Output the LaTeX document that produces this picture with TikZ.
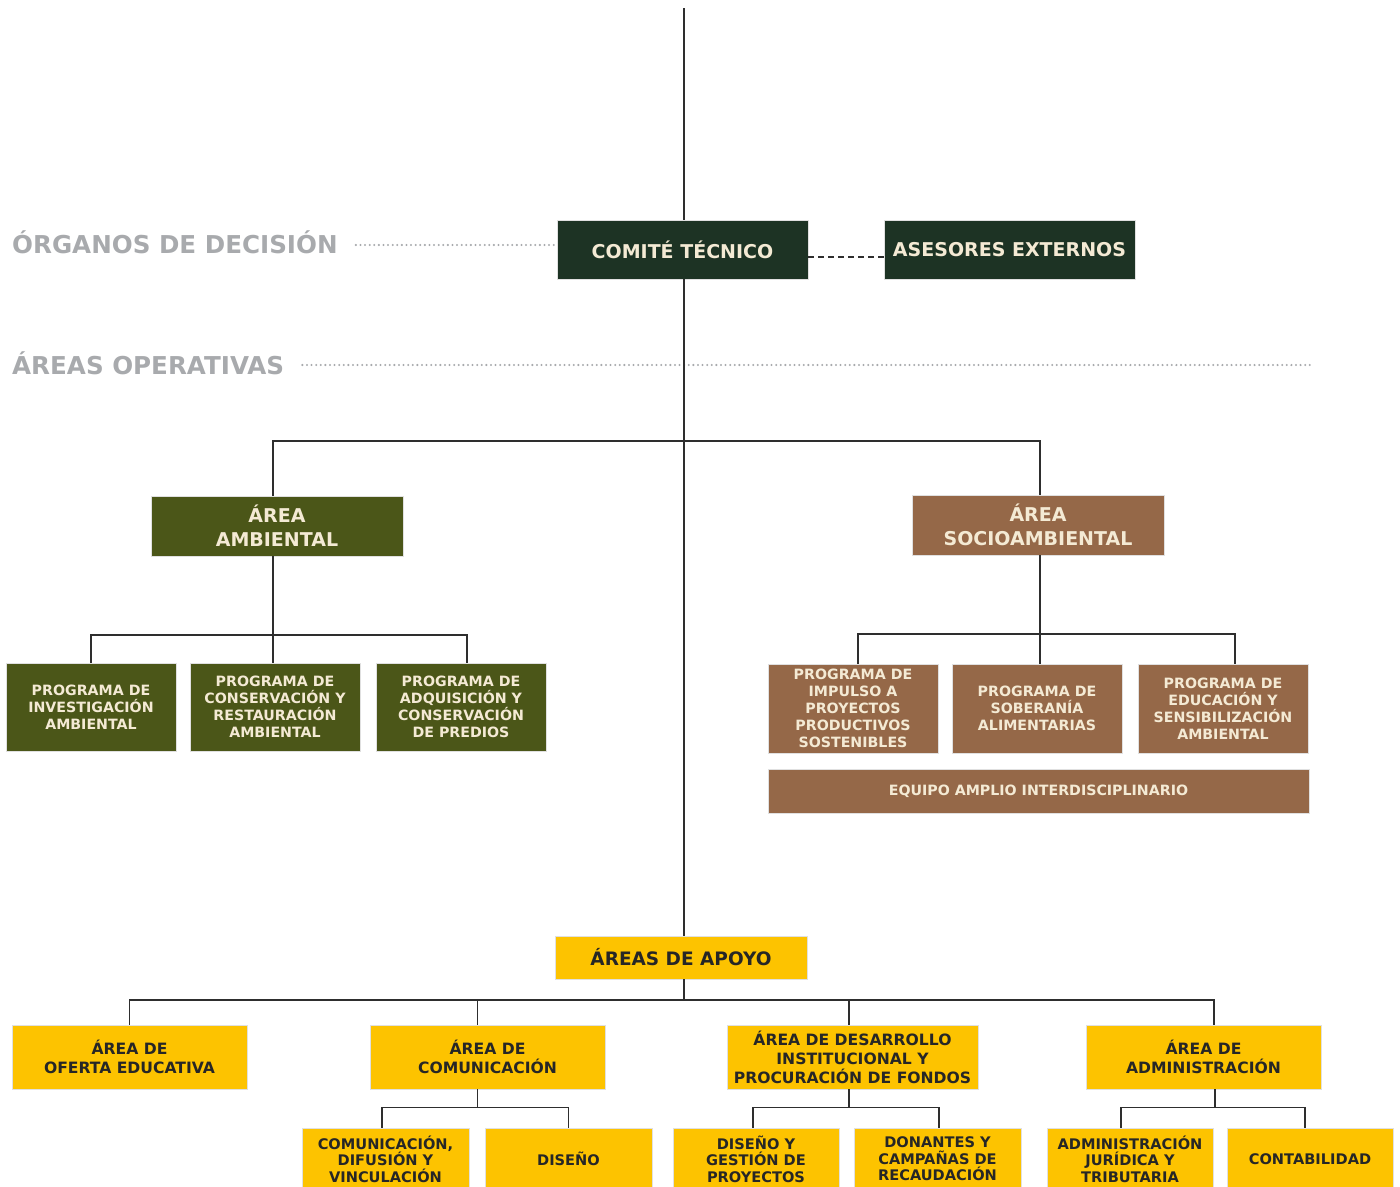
\documentclass[tikz,border=0pt]{standalone}
\usepackage{fontspec}
\setmainfont{DejaVu Sans}
\usetikzlibrary{calc}
\definecolor{dgreen}{HTML}{1D3324}
\definecolor{olive}{HTML}{4B5618}
\definecolor{brownc}{HTML}{956848}
\definecolor{yel}{HTML}{FDC300}
\definecolor{cream}{HTML}{F4EAD4}
\definecolor{greyt}{HTML}{A8AAAD}
\definecolor{ytext}{HTML}{262626}
\definecolor{linec}{HTML}{2E2E2E}
\newcommand{\fsz}[2]{\bfseries\fontsize{#1}{#2}\selectfont}
\tikzset{
  box/.style={inner sep=0pt, align=center, draw=black!12, line width=0.6pt},
  topbox/.style={box, fill=dgreen, text=cream, minimum width=251, minimum height=59, font=\fsz{19}{23}},
  areabox/.style={box, text=cream, minimum width=252, minimum height=60, font=\fsz{19}{24}},
  progbox/.style={box, text=cream, minimum width=170, minimum height=88, font=\fsz{14.2}{17}},
  ymain/.style={box, fill=yel, text=ytext, minimum width=235, minimum height=64, font=\fsz{15.6}{19}},
  ysub/.style={box, fill=yel, text=ytext, minimum width=167, minimum height=62, font=\fsz{14.6}{16.5}},
  conn/.style={draw=linec, line width=1.5pt},
  dotline/.style={draw=greyt, line width=2.3pt, line cap=round, dash pattern=on 0pt off 4.6pt},
  headlbl/.style={anchor=west, inner sep=0pt, text=greyt, font=\fsz{24.6}{28}}
}
\begin{document}
\begin{tikzpicture}[x=1pt,y=-1pt]
\useasboundingbox (0,0) rectangle (1400,1186);
% headings
\node[headlbl] (org) at (12,242) {ÓRGANOS DE DECISIÓN};
\node[headlbl] (ope) at (12,363) {ÁREAS OPERATIVAS};
% top boxes
\node[topbox] (comite) at (682.5,249.5) {COMITÉ TÉCNICO};
\node[topbox] (ases) at (1009.5,249.5) {ASESORES EXTERNOS};
% areas operativas
\node[areabox, fill=olive] (amb) at (277,526) {ÁREA\\AMBIENTAL};
\node[areabox, fill=brownc] (soc) at (1038,525) {ÁREA\\SOCIOAMBIENTAL};
\node[progbox, fill=olive] (pa1) at (91,707) {PROGRAMA DE\\INVESTIGACIÓN\\AMBIENTAL};
\node[progbox, fill=olive] (pa2) at (275,707) {PROGRAMA DE\\CONSERVACIÓN Y\\RESTAURACIÓN\\AMBIENTAL};
\node[progbox, fill=olive] (pa3) at (461,707) {PROGRAMA DE\\ADQUISICIÓN Y\\CONSERVACIÓN\\DE PREDIOS};
\node[progbox, fill=brownc, minimum height=89] (ps1) at (853,708.5) {PROGRAMA DE\\IMPULSO A\\PROYECTOS\\PRODUCTIVOS\\SOSTENIBLES};
\node[progbox, fill=brownc, minimum height=89] (ps2) at (1037,708.5) {PROGRAMA DE\\SOBERANÍA\\ALIMENTARIAS};
\node[progbox, fill=brownc, minimum height=89] (ps3) at (1223,708.5) {PROGRAMA DE\\EDUCACIÓN Y\\SENSIBILIZACIÓN\\AMBIENTAL};
\node[progbox, fill=brownc, minimum width=541, minimum height=44] (equipo) at (1038.5,791) {EQUIPO AMPLIO INTERDISCIPLINARIO};
% apoyo
\node[ymain, minimum width=252, minimum height=43, font=\fsz{18.5}{22}] (apoyo) at (681,957.5) {ÁREAS DE APOYO};
\node[ymain] (y1) at (129.5,1057) {ÁREA DE\\OFERTA EDUCATIVA};
\node[ymain] (y2) at (487.5,1057) {ÁREA DE\\COMUNICACIÓN};
\node[ymain, minimum width=251] (y3) at (852.5,1057) {ÁREA DE DESARROLLO\\INSTITUCIONAL Y\\PROCURACIÓN DE FONDOS};
\node[ymain] (y4) at (1203.5,1057) {ÁREA DE\\ADMINISTRACIÓN};
\node[ysub] (c1) at (385.5,1159) {COMUNICACIÓN,\\DIFUSIÓN Y\\VINCULACIÓN};
\node[ysub] (c2) at (568.5,1159) {DISEÑO};
\node[ysub, minimum width=166] (d1) at (756,1159) {DISEÑO Y\\GESTIÓN DE\\PROYECTOS};
\node[ysub] (d2) at (937.5,1159) {DONANTES Y\\CAMPAÑAS DE\\RECAUDACIÓN};
\node[ysub, minimum width=166] (a1) at (1130,1159) {ADMINISTRACIÓN\\JURÍDICA Y\\TRIBUTARIA};
\node[ysub, minimum width=166] (a2) at (1310,1159) {CONTABILIDAD};
% coordinates
\coordinate (top) at (684,8);
\coordinate (opeend) at (1312,365);
\coordinate (j1) at (684,441);
\coordinate (j2) at (273,635);
\coordinate (j3) at (1040,634);
\coordinate (j4) at (684,1000);
\coordinate (y2t) at ($(y2.north)+(-10,0)$);
\coordinate (y2b) at ($(y2.south)+(-10,0)$);
\coordinate (y4t) at ($(y4.north)+(10.5,0)$);
\coordinate (y4b) at ($(y4.south)+(11.5,0)$);
\coordinate (y3b) at ($(y3.south)+(-3.5,0)$);
\coordinate (y3t) at ($(y3.north)+(-3.5,0)$);
% dotted guide lines
\draw[dotline, shorten <=18pt, shorten >=3pt] (org.east |- 0,245) -- (comite.west |- 0,245);
\draw[dotline, shorten <=18pt] (ope.east |- 0,365) -- (opeend);
% connectors
\draw[conn] (top) -- (comite.north -| top);
\draw[conn] (comite.south -| top) -- (apoyo.north -| top);
\draw[draw=linec, line width=1.3pt, dash pattern=on 6pt off 4pt] (comite.east |- 0,257) -- (ases.west |- 0,257);
\draw[conn] (amb.north -| j2) |- (j1) -| (soc.north -| j3);
\draw[conn] (amb.south -| j2) -- (j2);
\draw[conn] (pa1.north) |- (j2) -| ($(pa3.north)+(6,0)$);
\draw[conn] (j2) -- (pa2.north -| j2);
\draw[conn] (soc.south -| j3) -- (j3);
\draw[conn] ($(ps1.north)+(5,0)$) |- (j3) -| ($(ps3.north)+(12,0)$);
\draw[conn] (j3) -- (ps2.north -| j3);
\draw[conn] (apoyo.south -| j4) -- (j4);
\draw[conn] (y1.north) |- (j4) -| (y4t);
\draw[conn] (y2t) -- (y2t |- j4);
\draw[conn] (y3t) -- (y3t |- j4);
\coordinate (jc) at ($(y2b)+(0,18)$);
\draw[conn] (y2b) -- (jc);
\draw[conn] ($(c1.north)+(-3.5,0)$) |- (jc) -| (c2.north);
\coordinate (jd) at ($(y3b)+(0,18)$);
\draw[conn] (y3b) -- (jd);
\draw[conn] ($(d1.north)+(-3,0)$) |- (jd) -| ($(d2.north)+(1.5,0)$);
\coordinate (ja) at ($(y4b)+(0,18)$);
\draw[conn] (y4b) -- (ja);
\draw[conn] ($(a1.north)+(-9,0)$) |- (ja) -| ($(a2.north)+(-5,0)$);
\end{tikzpicture}
\end{document}
